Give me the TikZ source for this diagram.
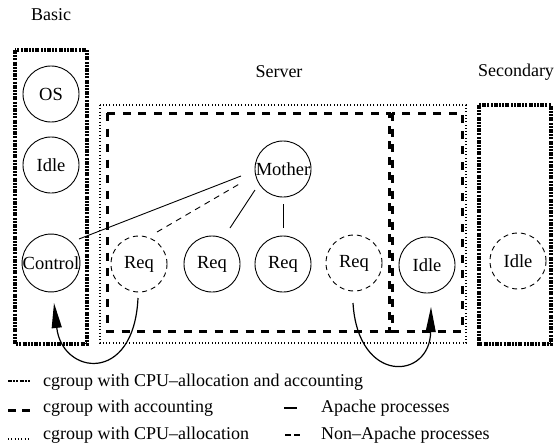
\documentclass[tikz,border=0pt]{standalone}
\usepackage{fontspec}
\setmainfont{Liberation Serif}
\usetikzlibrary{arrows.meta,calc}
\begin{document}
\begin{tikzpicture}[x=1pt,y=-1pt,
  txt/.style={font=\fontsize{18}{20}\selectfont,inner sep=0pt},
  proc/.style={circle,draw,line width=0.9pt,minimum size=56pt,inner sep=0pt,font=\fontsize{18.5}{20}\selectfont},
  nproc/.style={proc,dash pattern=on 5pt off 4pt},
  accbox/.style={line width=3pt,dash pattern=on 8pt off 7.5pt},
  cpubox/.style={line width=1.1pt,dash pattern=on 0.8pt off 2.5pt},
  bothbox/.style={line width=3.2pt,dash pattern=on 4pt off 1.2pt on 2pt off 1.2pt on 2pt off 1.2pt},
  link/.style={line width=0.9pt},
  nlink/.style={link,dash pattern=on 6pt off 5pt},
  move/.style={line width=1.2pt,-{Triangle[length=25pt,width=10pt]}}
]
\useasboundingbox (0,0) rectangle (555,447);

% group labels
\node[txt] (lBasic) at (51,15) {Basic};
\node[txt] (lServer) at (279,72) {Server};
\node[txt] (lSecondary) at (516,72) {Secondary};

% cgroup boxes
\draw[bothbox] (15,50) rectangle (87,344);
\draw[cpubox] (100,105) rectangle (466,343);
\draw[accbox] (107,113) rectangle (389,331);
\draw[accbox] (392,113) rectangle (462,331);
\draw[bothbox] (479,105) rectangle (551,344);

% processes
\node[proc] (OS) at (51,94) {OS};
\node[proc] (IdleA) at (51,165) {Idle};
\node[proc] (Control) at (51,263) {Control};
\node[nproc] (ReqA) at (139,264) {Req};
\node[proc] (ReqB) at (212,264) {Req};
\node[proc] (ReqC) at (283,264) {Req};
\node[proc] (Mother) at (283,169) {Mother};
\node[nproc] (ReqD) at (354,263) {Req};
\node[proc] (IdleB) at (427,265) {Idle};
\node[nproc] (IdleC) at (518,261) {Idle};

% family links
\draw[link] ($(Control)+(28,-24)$) -- ($(Mother)+(-42,7)$);
\draw[nlink] ($(ReqA)+(18,-32)$) -- ($(Mother)+(-42,14)$);
\draw[link] ($(ReqB)+(18,-36)$) -- ($(Mother)+(-28,21)$);
\draw[link] ($(ReqC)+(0,-36)$) -- ($(Mother)+(0,35)$);

% moves
\draw[move] ($(ReqA)+(-1,34)$) .. controls (134,385) and (62,375) .. ($(Control)+(3,40)$);
\draw[move] ($(ReqD)+(-1,40)$) .. controls (358,385) and (430,380) .. ($(IdleB)+(4,42)$);

% legend
\draw[bothbox,line width=2.8pt] (8,381) -- (30,381);
\node[txt,anchor=base west] (t1) at (43,386) {cgroup with CPU--allocation and accounting};
\draw[accbox,dash pattern=on 8pt off 6pt] (8,410) -- (30,410);
\node[txt,anchor=base west] (t2) at (43,412.5) {cgroup with accounting};
\draw[cpubox] (8,439) -- (31,439);
\node[txt,anchor=base west] (t3) at (43,439) {cgroup with CPU--allocation};
\draw[line width=1.3pt] (284,408) -- (297,408);
\node[txt,anchor=base west] (t4) at (321,412.5) {Apache processes};
\draw[line width=1.3pt,dash pattern=on 6pt off 3pt] (285,435) -- (300,435);
\node[txt,anchor=base west] (t5) at (321,439) {Non--Apache processes};
\end{tikzpicture}
\end{document}
